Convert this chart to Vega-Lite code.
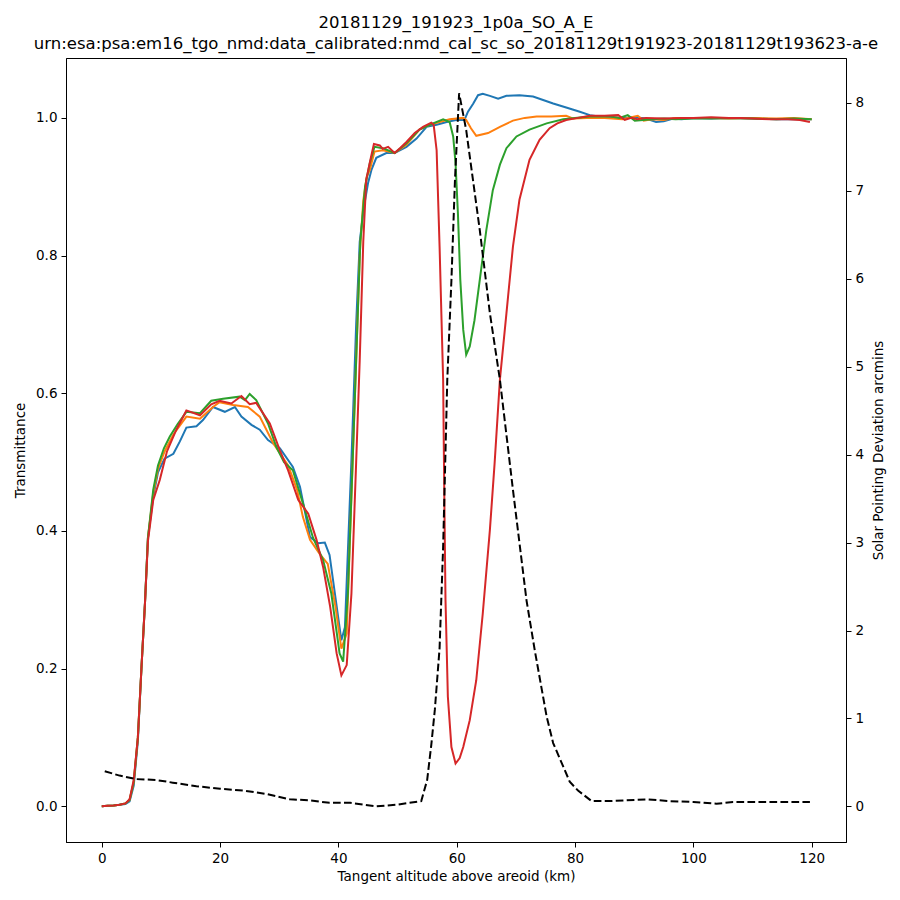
{
  "$schema": "https://vega.github.io/schema/vega-lite/v6.json",
  "width": 780,
  "height": 784,
  "autosize": "none",
  "padding": {"left": 66, "top": 58, "right": 54, "bottom": 58},
  "title": {
    "text": ["20181129_191923_1p0a_SO_A_E", "urn:esa:psa:em16_tgo_nmd:data_calibrated:nmd_cal_sc_so_20181129t191923-20181129t193623-a-e"],
    "font": "DejaVu Sans",
    "fontSize": 16.5,
    "fontWeight": "normal",
    "color": "black",
    "anchor": "middle",
    "lineHeight": 21,
    "offset": 6
  },
  "config": {
    "view": {"stroke": "black", "strokeWidth": 1},
    "axis": {
      "grid": false,
      "domainColor": "black",
      "tickColor": "black",
      "labelColor": "black",
      "titleColor": "black",
      "labelFont": "DejaVu Sans",
      "titleFont": "DejaVu Sans",
      "labelFontSize": 13.5,
      "titleFontSize": 13.5,
      "titleFontWeight": "normal",
      "tickSize": 5,
      "labelPadding": 4
    }
  },
  "datasets": {
    "trans": [
      {"s": "1", "x": 0, "y": 0}, {"s": "1", "x": 1, "y": 0.0005}, {"s": "1", "x": 2, "y": 0.001}, {"s": "1", "x": 3, "y": 0.002},
      {"s": "1", "x": 4, "y": 0.003}, {"s": "1", "x": 4.7, "y": 0.007}, {"s": "1", "x": 5.4, "y": 0.03}, {"s": "1", "x": 6.1, "y": 0.095},
      {"s": "1", "x": 6.7, "y": 0.2}, {"s": "1", "x": 7.3, "y": 0.295}, {"s": "1", "x": 7.8, "y": 0.39}, {"s": "1", "x": 8.7, "y": 0.45},
      {"s": "1", "x": 9.5, "y": 0.485}, {"s": "1", "x": 10.6, "y": 0.505}, {"s": "1", "x": 12.1, "y": 0.512}, {"s": "1", "x": 13.2, "y": 0.53},
      {"s": "1", "x": 14.3, "y": 0.55}, {"s": "1", "x": 16.0, "y": 0.552}, {"s": "1", "x": 17.1, "y": 0.561}, {"s": "1", "x": 18.8, "y": 0.58},
      {"s": "1", "x": 20.8, "y": 0.573}, {"s": "1", "x": 22.5, "y": 0.58}, {"s": "1", "x": 23.6, "y": 0.566}, {"s": "1", "x": 25.3, "y": 0.554},
      {"s": "1", "x": 26.7, "y": 0.547}, {"s": "1", "x": 28.1, "y": 0.532}, {"s": "1", "x": 30.1, "y": 0.52}, {"s": "1", "x": 32.3, "y": 0.493},
      {"s": "1", "x": 33.5, "y": 0.464}, {"s": "1", "x": 35.2, "y": 0.391}, {"s": "1", "x": 36.6, "y": 0.382}, {"s": "1", "x": 37.7, "y": 0.383},
      {"s": "1", "x": 38.5, "y": 0.365}, {"s": "1", "x": 40.5, "y": 0.241}, {"s": "1", "x": 41.1, "y": 0.26}, {"s": "1", "x": 42.2, "y": 0.503},
      {"s": "1", "x": 43.0, "y": 0.7}, {"s": "1", "x": 43.6, "y": 0.82}, {"s": "1", "x": 44.3, "y": 0.87}, {"s": "1", "x": 45.0, "y": 0.905},
      {"s": "1", "x": 45.6, "y": 0.925}, {"s": "1", "x": 46.4, "y": 0.942}, {"s": "1", "x": 48.1, "y": 0.949}, {"s": "1", "x": 49.5, "y": 0.949},
      {"s": "1", "x": 51.5, "y": 0.958}, {"s": "1", "x": 53.2, "y": 0.97}, {"s": "1", "x": 54.9, "y": 0.987}, {"s": "1", "x": 56.6, "y": 0.99},
      {"s": "1", "x": 58.3, "y": 0.994}, {"s": "1", "x": 59.9, "y": 0.997}, {"s": "1", "x": 61.3, "y": 0.997}, {"s": "1", "x": 61.9, "y": 1.009},
      {"s": "1", "x": 62.8, "y": 1.021}, {"s": "1", "x": 63.6, "y": 1.033}, {"s": "1", "x": 64.4, "y": 1.035}, {"s": "1", "x": 65.6, "y": 1.032},
      {"s": "1", "x": 67.0, "y": 1.028}, {"s": "1", "x": 68.4, "y": 1.032}, {"s": "1", "x": 70.6, "y": 1.033}, {"s": "1", "x": 72.9, "y": 1.031},
      {"s": "1", "x": 74.6, "y": 1.026}, {"s": "1", "x": 76.3, "y": 1.021}, {"s": "1", "x": 78.5, "y": 1.015}, {"s": "1", "x": 80.8, "y": 1.009},
      {"s": "1", "x": 82.5, "y": 1.004}, {"s": "1", "x": 85, "y": 1.001}, {"s": "1", "x": 88, "y": 1.0}, {"s": "1", "x": 90, "y": 1.001},
      {"s": "1", "x": 92, "y": 0.999}, {"s": "1", "x": 93.7, "y": 0.994}, {"s": "1", "x": 95, "y": 0.995}, {"s": "1", "x": 96.6, "y": 0.999},
      {"s": "1", "x": 98, "y": 0.998}, {"s": "1", "x": 100, "y": 1.0}, {"s": "1", "x": 103, "y": 0.999}, {"s": "1", "x": 106, "y": 1.0},
      {"s": "1", "x": 110, "y": 0.999}, {"s": "1", "x": 114, "y": 0.998}, {"s": "1", "x": 117, "y": 0.998}, {"s": "1", "x": 120, "y": 0.998},

      {"s": "2", "x": 0, "y": 0}, {"s": "2", "x": 1, "y": 0.0005}, {"s": "2", "x": 2, "y": 0.001}, {"s": "2", "x": 3, "y": 0.002},
      {"s": "2", "x": 4, "y": 0.004}, {"s": "2", "x": 4.7, "y": 0.009}, {"s": "2", "x": 5.4, "y": 0.035}, {"s": "2", "x": 6.1, "y": 0.1},
      {"s": "2", "x": 6.7, "y": 0.2}, {"s": "2", "x": 7.3, "y": 0.295}, {"s": "2", "x": 7.8, "y": 0.39}, {"s": "2", "x": 8.7, "y": 0.455},
      {"s": "2", "x": 9.5, "y": 0.49}, {"s": "2", "x": 10.6, "y": 0.515}, {"s": "2", "x": 12.1, "y": 0.54}, {"s": "2", "x": 14.3, "y": 0.566},
      {"s": "2", "x": 16.6, "y": 0.563}, {"s": "2", "x": 18.8, "y": 0.58}, {"s": "2", "x": 19.9, "y": 0.587}, {"s": "2", "x": 22.2, "y": 0.583},
      {"s": "2", "x": 24.7, "y": 0.58}, {"s": "2", "x": 26.7, "y": 0.566}, {"s": "2", "x": 29.0, "y": 0.527}, {"s": "2", "x": 31.5, "y": 0.495},
      {"s": "2", "x": 33.0, "y": 0.46}, {"s": "2", "x": 34.0, "y": 0.42}, {"s": "2", "x": 35.2, "y": 0.387}, {"s": "2", "x": 36.8, "y": 0.367},
      {"s": "2", "x": 38.2, "y": 0.352}, {"s": "2", "x": 39.5, "y": 0.29}, {"s": "2", "x": 40.5, "y": 0.229}, {"s": "2", "x": 41.4, "y": 0.251},
      {"s": "2", "x": 42.2, "y": 0.45}, {"s": "2", "x": 43.0, "y": 0.648}, {"s": "2", "x": 43.6, "y": 0.8}, {"s": "2", "x": 44.2, "y": 0.88},
      {"s": "2", "x": 44.8, "y": 0.915}, {"s": "2", "x": 45.3, "y": 0.924}, {"s": "2", "x": 46.1, "y": 0.951}, {"s": "2", "x": 47.5, "y": 0.953},
      {"s": "2", "x": 49.5, "y": 0.949}, {"s": "2", "x": 51.5, "y": 0.961}, {"s": "2", "x": 53.7, "y": 0.983}, {"s": "2", "x": 55.4, "y": 0.99},
      {"s": "2", "x": 57.1, "y": 0.994}, {"s": "2", "x": 58.8, "y": 0.998}, {"s": "2", "x": 61.1, "y": 1.0}, {"s": "2", "x": 61.6, "y": 0.997},
      {"s": "2", "x": 62.4, "y": 0.985}, {"s": "2", "x": 63.3, "y": 0.974}, {"s": "2", "x": 65.3, "y": 0.978}, {"s": "2", "x": 67.3, "y": 0.987},
      {"s": "2", "x": 69.5, "y": 0.996}, {"s": "2", "x": 71.5, "y": 1.0}, {"s": "2", "x": 73.5, "y": 1.002}, {"s": "2", "x": 76, "y": 1.002},
      {"s": "2", "x": 78.5, "y": 1.003}, {"s": "2", "x": 79.7, "y": 0.999}, {"s": "2", "x": 82, "y": 1.0}, {"s": "2", "x": 85, "y": 1.0},
      {"s": "2", "x": 88, "y": 0.998}, {"s": "2", "x": 89.5, "y": 1.001}, {"s": "2", "x": 90.6, "y": 1.003}, {"s": "2", "x": 91.6, "y": 0.996},
      {"s": "2", "x": 93, "y": 0.998}, {"s": "2", "x": 95, "y": 0.997}, {"s": "2", "x": 97, "y": 1.0}, {"s": "2", "x": 100, "y": 1.0},
      {"s": "2", "x": 103, "y": 1.0}, {"s": "2", "x": 106, "y": 0.999}, {"s": "2", "x": 110, "y": 1.0}, {"s": "2", "x": 114, "y": 0.999},
      {"s": "2", "x": 117, "y": 1.0}, {"s": "2", "x": 120, "y": 0.998},

      {"s": "3", "x": 0, "y": 0}, {"s": "3", "x": 1, "y": 0.0005}, {"s": "3", "x": 2, "y": 0.001}, {"s": "3", "x": 3, "y": 0.002},
      {"s": "3", "x": 4, "y": 0.004}, {"s": "3", "x": 4.7, "y": 0.009}, {"s": "3", "x": 5.4, "y": 0.035}, {"s": "3", "x": 6.1, "y": 0.1},
      {"s": "3", "x": 6.7, "y": 0.2}, {"s": "3", "x": 7.3, "y": 0.295}, {"s": "3", "x": 7.8, "y": 0.39}, {"s": "3", "x": 8.7, "y": 0.46},
      {"s": "3", "x": 9.5, "y": 0.495}, {"s": "3", "x": 10.5, "y": 0.52}, {"s": "3", "x": 11.5, "y": 0.537}, {"s": "3", "x": 12.8, "y": 0.555},
      {"s": "3", "x": 14.3, "y": 0.573}, {"s": "3", "x": 16.6, "y": 0.571}, {"s": "3", "x": 18.5, "y": 0.589}, {"s": "3", "x": 20.5, "y": 0.592},
      {"s": "3", "x": 23.3, "y": 0.595}, {"s": "3", "x": 24.2, "y": 0.59}, {"s": "3", "x": 25.0, "y": 0.599}, {"s": "3", "x": 26.1, "y": 0.59},
      {"s": "3", "x": 28.1, "y": 0.556}, {"s": "3", "x": 29.5, "y": 0.522}, {"s": "3", "x": 30.8, "y": 0.5}, {"s": "3", "x": 32.3, "y": 0.488},
      {"s": "3", "x": 34.0, "y": 0.44}, {"s": "3", "x": 35.7, "y": 0.39}, {"s": "3", "x": 37.4, "y": 0.358}, {"s": "3", "x": 38.8, "y": 0.309},
      {"s": "3", "x": 40.2, "y": 0.222}, {"s": "3", "x": 40.8, "y": 0.21}, {"s": "3", "x": 41.6, "y": 0.309}, {"s": "3", "x": 42.4, "y": 0.5},
      {"s": "3", "x": 43.0, "y": 0.648}, {"s": "3", "x": 43.7, "y": 0.82}, {"s": "3", "x": 44.5, "y": 0.9}, {"s": "3", "x": 45.3, "y": 0.934},
      {"s": "3", "x": 46.1, "y": 0.958}, {"s": "3", "x": 47.5, "y": 0.956}, {"s": "3", "x": 49.5, "y": 0.949}, {"s": "3", "x": 51.5, "y": 0.963},
      {"s": "3", "x": 53.7, "y": 0.983}, {"s": "3", "x": 56.0, "y": 0.992}, {"s": "3", "x": 57.7, "y": 0.998}, {"s": "3", "x": 58.8, "y": 0.994},
      {"s": "3", "x": 59.4, "y": 0.973}, {"s": "3", "x": 59.8, "y": 0.934}, {"s": "3", "x": 60.2, "y": 0.861}, {"s": "3", "x": 60.6, "y": 0.765},
      {"s": "3", "x": 61.1, "y": 0.692}, {"s": "3", "x": 61.6, "y": 0.656}, {"s": "3", "x": 62.2, "y": 0.668}, {"s": "3", "x": 63.0, "y": 0.706},
      {"s": "3", "x": 63.9, "y": 0.765}, {"s": "3", "x": 65.0, "y": 0.837}, {"s": "3", "x": 66.1, "y": 0.895}, {"s": "3", "x": 67.3, "y": 0.932},
      {"s": "3", "x": 68.4, "y": 0.956}, {"s": "3", "x": 70.1, "y": 0.973}, {"s": "3", "x": 72.3, "y": 0.983}, {"s": "3", "x": 75.2, "y": 0.992},
      {"s": "3", "x": 78.0, "y": 0.998}, {"s": "3", "x": 80, "y": 1.0}, {"s": "3", "x": 82.5, "y": 1.002}, {"s": "3", "x": 86, "y": 1.002},
      {"s": "3", "x": 87.5, "y": 1.0}, {"s": "3", "x": 88.9, "y": 1.004}, {"s": "3", "x": 90.1, "y": 0.996}, {"s": "3", "x": 91.5, "y": 0.997},
      {"s": "3", "x": 93, "y": 0.998}, {"s": "3", "x": 95, "y": 0.999}, {"s": "3", "x": 97, "y": 0.998}, {"s": "3", "x": 100, "y": 0.999},
      {"s": "3", "x": 103, "y": 0.999}, {"s": "3", "x": 106, "y": 1.0}, {"s": "3", "x": 110, "y": 0.999}, {"s": "3", "x": 114, "y": 0.998},
      {"s": "3", "x": 117, "y": 0.999}, {"s": "3", "x": 120, "y": 0.998},

      {"s": "4", "x": 0, "y": 0}, {"s": "4", "x": 1, "y": 0.0005}, {"s": "4", "x": 2, "y": 0.001}, {"s": "4", "x": 3, "y": 0.002},
      {"s": "4", "x": 4, "y": 0.004}, {"s": "4", "x": 4.7, "y": 0.01}, {"s": "4", "x": 5.4, "y": 0.038}, {"s": "4", "x": 6.1, "y": 0.1},
      {"s": "4", "x": 6.7, "y": 0.2}, {"s": "4", "x": 7.3, "y": 0.295}, {"s": "4", "x": 7.8, "y": 0.385}, {"s": "4", "x": 8.7, "y": 0.445},
      {"s": "4", "x": 9.8, "y": 0.474}, {"s": "4", "x": 11.0, "y": 0.515}, {"s": "4", "x": 12.6, "y": 0.547}, {"s": "4", "x": 14.3, "y": 0.575},
      {"s": "4", "x": 16.6, "y": 0.568}, {"s": "4", "x": 18.5, "y": 0.584}, {"s": "4", "x": 19.9, "y": 0.589}, {"s": "4", "x": 21.9, "y": 0.585},
      {"s": "4", "x": 23.6, "y": 0.596}, {"s": "4", "x": 25.0, "y": 0.584}, {"s": "4", "x": 26.1, "y": 0.586}, {"s": "4", "x": 28.4, "y": 0.556},
      {"s": "4", "x": 30.1, "y": 0.517}, {"s": "4", "x": 31.5, "y": 0.488}, {"s": "4", "x": 33.2, "y": 0.445}, {"s": "4", "x": 34.9, "y": 0.425},
      {"s": "4", "x": 36.3, "y": 0.387}, {"s": "4", "x": 37.4, "y": 0.348}, {"s": "4", "x": 38.6, "y": 0.29}, {"s": "4", "x": 39.7, "y": 0.222},
      {"s": "4", "x": 40.5, "y": 0.19}, {"s": "4", "x": 41.4, "y": 0.205}, {"s": "4", "x": 42.2, "y": 0.309}, {"s": "4", "x": 43.0, "y": 0.5},
      {"s": "4", "x": 43.6, "y": 0.648}, {"s": "4", "x": 44.2, "y": 0.82}, {"s": "4", "x": 44.7, "y": 0.91}, {"s": "4", "x": 45.4, "y": 0.939},
      {"s": "4", "x": 46.0, "y": 0.962}, {"s": "4", "x": 47.0, "y": 0.96}, {"s": "4", "x": 47.5, "y": 0.955}, {"s": "4", "x": 48.4, "y": 0.958},
      {"s": "4", "x": 49.5, "y": 0.949}, {"s": "4", "x": 50.4, "y": 0.956}, {"s": "4", "x": 51.5, "y": 0.965}, {"s": "4", "x": 52.9, "y": 0.978},
      {"s": "4", "x": 54.3, "y": 0.987}, {"s": "4", "x": 55.7, "y": 0.993}, {"s": "4", "x": 56.1, "y": 0.99}, {"s": "4", "x": 56.6, "y": 0.953},
      {"s": "4", "x": 57.1, "y": 0.813}, {"s": "4", "x": 57.4, "y": 0.716}, {"s": "4", "x": 57.7, "y": 0.62}, {"s": "4", "x": 57.9, "y": 0.45},
      {"s": "4", "x": 58.1, "y": 0.3}, {"s": "4", "x": 58.5, "y": 0.159}, {"s": "4", "x": 59.1, "y": 0.086}, {"s": "4", "x": 59.8, "y": 0.062},
      {"s": "4", "x": 60.5, "y": 0.07}, {"s": "4", "x": 61.1, "y": 0.086}, {"s": "4", "x": 62.2, "y": 0.125}, {"s": "4", "x": 63.3, "y": 0.183},
      {"s": "4", "x": 64.4, "y": 0.28}, {"s": "4", "x": 65.6, "y": 0.401}, {"s": "4", "x": 66.4, "y": 0.498}, {"s": "4", "x": 67.3, "y": 0.62},
      {"s": "4", "x": 68.4, "y": 0.716}, {"s": "4", "x": 69.5, "y": 0.813}, {"s": "4", "x": 70.6, "y": 0.881}, {"s": "4", "x": 72.3, "y": 0.939},
      {"s": "4", "x": 74.0, "y": 0.968}, {"s": "4", "x": 75.7, "y": 0.985}, {"s": "4", "x": 77, "y": 0.992}, {"s": "4", "x": 78.5, "y": 0.997},
      {"s": "4", "x": 80.5, "y": 1.0}, {"s": "4", "x": 82.5, "y": 1.003}, {"s": "4", "x": 85, "y": 1.003}, {"s": "4", "x": 87.3, "y": 1.004},
      {"s": "4", "x": 88.4, "y": 0.997}, {"s": "4", "x": 89.5, "y": 1.0}, {"s": "4", "x": 90.5, "y": 0.998}, {"s": "4", "x": 92, "y": 1.0},
      {"s": "4", "x": 95, "y": 0.999}, {"s": "4", "x": 98, "y": 1.0}, {"s": "4", "x": 100, "y": 1.0}, {"s": "4", "x": 103, "y": 1.001},
      {"s": "4", "x": 106, "y": 1.0}, {"s": "4", "x": 108, "y": 1.0}, {"s": "4", "x": 110, "y": 0.999}, {"s": "4", "x": 113, "y": 0.998},
      {"s": "4", "x": 116, "y": 0.998}, {"s": "4", "x": 118, "y": 0.997}, {"s": "4", "x": 119.7, "y": 0.994}
    ],
    "dev": [
      {"x": 0.5, "d": 0.4}, {"x": 3, "d": 0.35}, {"x": 5.9, "d": 0.31}, {"x": 9.2, "d": 0.3}, {"x": 12, "d": 0.27},
      {"x": 16, "d": 0.23}, {"x": 20, "d": 0.2}, {"x": 24, "d": 0.18}, {"x": 28, "d": 0.14}, {"x": 31.8, "d": 0.08},
      {"x": 35, "d": 0.07}, {"x": 38.5, "d": 0.04}, {"x": 42, "d": 0.04}, {"x": 46.4, "d": 0.0}, {"x": 50, "d": 0.02},
      {"x": 54.0, "d": 0.06}, {"x": 55.0, "d": 0.3}, {"x": 55.7, "d": 0.7}, {"x": 56.3, "d": 1.1}, {"x": 57.1, "d": 1.8},
      {"x": 57.7, "d": 2.95}, {"x": 58.4, "d": 4.85}, {"x": 59.1, "d": 5.98}, {"x": 59.7, "d": 7.12}, {"x": 60.4, "d": 8.11},
      {"x": 61.6, "d": 7.69}, {"x": 63.9, "d": 6.55}, {"x": 65.6, "d": 5.61}, {"x": 67.3, "d": 4.85}, {"x": 69.5, "d": 3.6},
      {"x": 71.8, "d": 2.34}, {"x": 73.2, "d": 1.77}, {"x": 75.2, "d": 1.02}, {"x": 76.3, "d": 0.72}, {"x": 79.1, "d": 0.28},
      {"x": 80.5, "d": 0.18}, {"x": 82.8, "d": 0.06}, {"x": 86, "d": 0.06}, {"x": 92, "d": 0.08}, {"x": 96, "d": 0.06},
      {"x": 100, "d": 0.05}, {"x": 103.9, "d": 0.03}, {"x": 106.7, "d": 0.05}, {"x": 110, "d": 0.05}, {"x": 114, "d": 0.05},
      {"x": 119.7, "d": 0.05}
    ]
  },
  "encoding": {
    "x": {
      "field": "x",
      "type": "quantitative",
      "title": "Tangent altitude above areoid (km)",
      "scale": {"domain": [-6.05, 125.8], "nice": false, "zero": false},
      "axis": {"values": [0, 20, 40, 60, 80, 100, 120], "titlePadding": 5}
    }
  },
  "layer": [
    {
      "data": {"name": "trans"},
      "mark": {"type": "line", "strokeWidth": 2},
      "encoding": {
        "y": {
          "field": "y",
          "type": "quantitative",
          "title": "Transmittance",
          "scale": {"domain": [-0.052, 1.087], "nice": false, "zero": false},
          "axis": {"values": [0, 0.2, 0.4, 0.6, 0.8, 1.0], "format": ".1f", "titlePadding": 8}
        },
        "color": {
          "field": "s",
          "type": "nominal",
          "scale": {"domain": ["1", "2", "3", "4"], "range": ["#1f77b4", "#ff7f0e", "#2ca02c", "#d62728"]},
          "legend": null
        }
      }
    },
    {
      "data": {"name": "dev"},
      "mark": {"type": "line", "color": "black", "strokeWidth": 2, "strokeDash": [7.7, 3.3]},
      "encoding": {
        "y": {
          "field": "d",
          "type": "quantitative",
          "title": "Solar Pointing Deviation arcmins",
          "scale": {"domain": [-0.405, 8.51], "nice": false, "zero": false},
          "axis": {"orient": "right", "values": [0, 1, 2, 3, 4, 5, 6, 7, 8], "titlePadding": 8, "titleAngle": 270, "titleBaseline": "top"}
        }
      }
    }
  ],
  "resolve": {"scale": {"y": "independent"}}
}
